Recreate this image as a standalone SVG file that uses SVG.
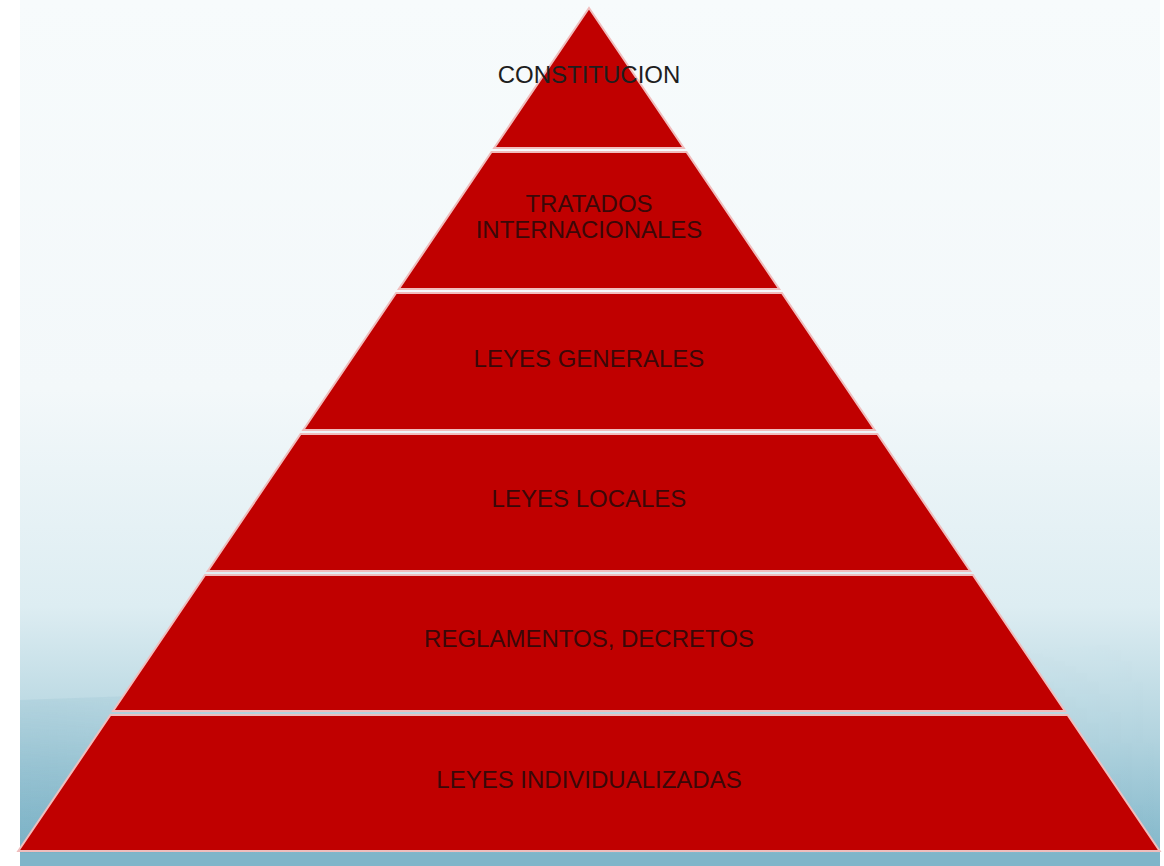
<svg xmlns="http://www.w3.org/2000/svg" width="1164" height="866" viewBox="0 0 1164 866">
  <defs>
    <linearGradient id="bg" x1="0" y1="0" x2="0" y2="1">
      <stop offset="0" stop-color="#F7FBFC"/>
      <stop offset="0.45" stop-color="#F3F8FA"/>
      <stop offset="0.7" stop-color="#DDEDF2"/>
      <stop offset="0.85" stop-color="#B3D4DF"/>
      <stop offset="1" stop-color="#7DB4C8"/>
    </linearGradient>
    <linearGradient id="swoosh" x1="0" y1="0" x2="1" y2="0">
      <stop offset="0" stop-color="#6FA9BF" stop-opacity="0.45"/>
      <stop offset="0.5" stop-color="#8BBDCE" stop-opacity="0.2"/>
      <stop offset="1" stop-color="#8BBDCE" stop-opacity="0"/>
    </linearGradient>
    <linearGradient id="swooshFade" x1="0" y1="0" x2="0" y2="1">
      <stop offset="0" stop-color="#FFFFFF" stop-opacity="0"/>
      <stop offset="1" stop-color="#FFFFFF" stop-opacity="1"/>
    </linearGradient>
    <mask id="fadeMask">
      <rect x="0" y="620" width="1164" height="246" fill="url(#swooshFade)"/>
    </mask>
  </defs>
  <style>
    .layer { fill: #C00000; stroke: #F0BDBD; stroke-width: 2; stroke-linejoin: miter; }
    .lbl { font-family: "Liberation Sans", Arial, sans-serif; font-size: 24px; fill: #3A0808; text-anchor: middle; }
    .top { fill: #1E1E1E; }
  </style>
  <rect x="0" y="0" width="1164" height="866" fill="#FFFFFF"/>
  <rect x="20" y="0" width="1140" height="866" fill="url(#bg)"/>
  <path d="M20 700 C 300 690, 700 680, 1160 640 L1160 866 L20 866 Z" fill="url(#swoosh)" mask="url(#fadeMask)"/>
  <rect x="20" y="853" width="1140" height="13" fill="#7FB5C9"/>

  <g id="layer-constitucion">
    <polygon class="layer" points="589,8 683.8,148 494.2,148"/>
    <text class="lbl top" x="589" y="83">CONSTITUCION</text>
  </g>
  <g id="layer-tratados">
    <polygon class="layer" points="491.5,152 686.5,152 779.2,289 398.8,289"/>
    <text class="lbl" x="589" y="212">TRATADOS</text>
    <text class="lbl" x="589" y="238">INTERNACIONALES</text>
  </g>
  <g id="layer-leyes-generales">
    <polygon class="layer" points="396.1,293 781.9,293 874.7,430 303.3,430"/>
    <text class="lbl" x="589" y="367">LEYES GENERALES</text>
  </g>
  <g id="layer-leyes-locales">
    <polygon class="layer" points="300.6,434 877.4,434 970.2,571 207.8,571"/>
    <text class="lbl" x="589" y="507">LEYES LOCALES</text>
  </g>
  <g id="layer-reglamentos">
    <polygon class="layer" points="205.1,575 972.9,575 1064.9,711 113.1,711"/>
    <text class="lbl" x="589" y="647">REGLAMENTOS, DECRETOS</text>
  </g>
  <g id="layer-leyes-individualizadas">
    <polygon class="layer" points="110.4,715 1067.6,715 1159.7,851 18.3,851"/>
    <text class="lbl" x="589" y="788">LEYES INDIVIDUALIZADAS</text>
  </g>
  <g id="connectors"/>
</svg>
